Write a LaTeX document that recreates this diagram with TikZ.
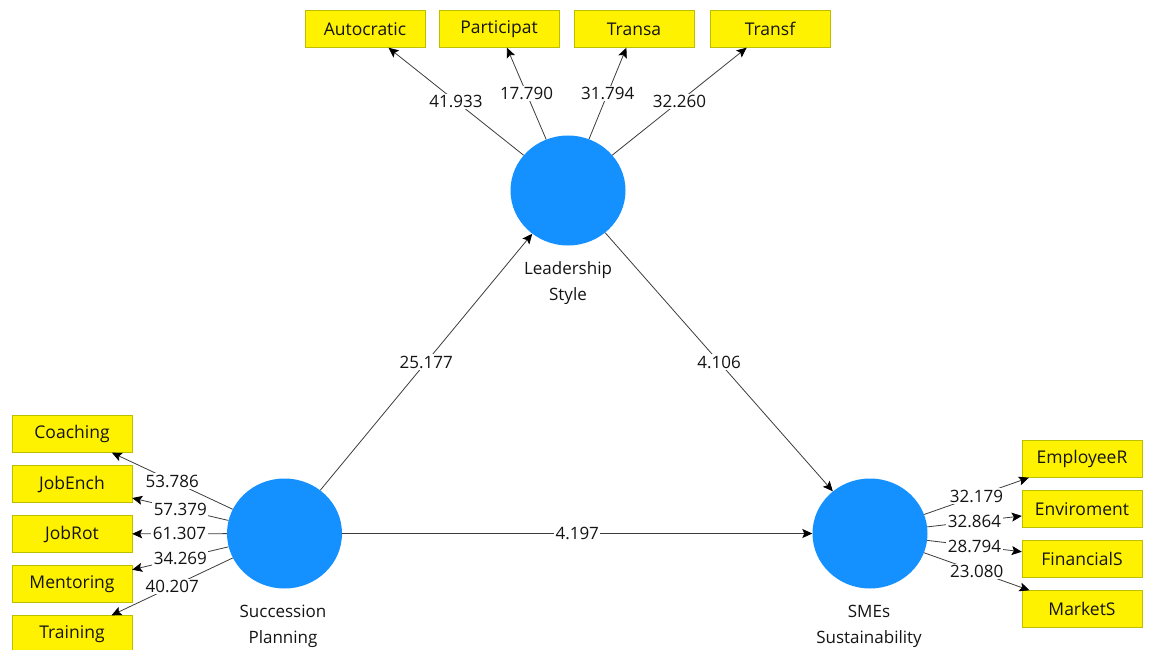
\documentclass[tikz,border=0pt]{standalone}
\usepackage{fontspec}
\setmainfont{Open Sans}
\usetikzlibrary{arrows.meta,shapes.geometric}
\definecolor{plsblue}{RGB}{20,144,255}
\definecolor{boxline}{RGB}{190,190,0}
\definecolor{linegray}{RGB}{60,60,60}
\definecolor{txtgray}{RGB}{20,20,20}
\tikzset{
  latent/.style={ellipse, fill=plsblue, minimum width=115pt, minimum height=110pt, inner sep=0pt},
  indic/.style={draw=boxline, fill=yellow, minimum width=120pt, minimum height=37pt, inner sep=0pt,
    text=txtgray, font=\fontsize{17.5}{20}\selectfont},
  coef/.style={fill=white, inner sep=1.5pt, text=txtgray, font=\fontsize{17}{20}\selectfont},
  lvname/.style={align=center, text=txtgray, font=\fontsize{17}{26}\selectfont},
  link/.style={draw=linegray, ->, line width=0.8pt}
}
\begin{document}
\begin{tikzpicture}[x=1pt, y=-1pt, >={Stealth[length=10pt,width=9pt,inset=2pt,color=black]}]
\useasboundingbox (0,0) rectangle (1151,650);

% latent variables
\node[latent] (ls)  at (568,190.5) {};
\node[latent] (sp)  at (284.5,533.5) {};
\node[latent] (sme) at (870,533.5) {};
\node[lvname] (lslab)  at (568,283) {Leadership\\Style};
\node[lvname] (splab)  at (283,626) {Succession\\Planning};
\node[lvname] (smelab) at (869,626) {SMEs\\Sustainability};

% indicators
\node[indic] (auto)   at (365,29)  {Autocratic};
\node[indic] (part)   at (499,29)  {Participat};
\node[indic] (transa) at (634,29)  {Transa};
\node[indic] (transf) at (770,29)  {Transf};

\node[indic] (coach)  at (72,434) {Coaching};
\node[indic] (jobenc) at (72,484) {JobEnch};
\node[indic] (jobrot) at (72,534) {JobRot};
\node[indic] (mentor) at (72,584) {Mentoring};
\node[indic] (train)  at (72,634) {Training};

\node[indic] (emplr)  at (1082,459) {EmployeeR};
\node[indic] (envir)  at (1082,509) {Enviroment};
\node[indic] (finan)  at (1082,559) {FinancialS};
\node[indic] (market) at (1082,609) {MarketS};

% outer loadings
\draw[link] (ls) -- node[coef] {41.933} (auto);
\draw[link] (ls) -- node[coef] {17.790} (part);
\draw[link] (ls) -- node[coef] {31.794} (transa);
\draw[link] (ls) -- node[coef] {32.260} (transf);

\draw[link] (sp) -- node[coef] {53.786} (coach);
\draw[link] (sp) -- node[coef] {57.379} (jobenc);
\draw[link] (sp) -- node[coef] {61.307} (jobrot);
\draw[link] (sp) -- node[coef] {34.269} (mentor);
\draw[link] (sp) -- node[coef] {40.207} (train);

\draw[link] (sme) -- node[coef] {32.179} (emplr);
\draw[link] (sme) -- node[coef] {32.864} (envir);
\draw[link] (sme) -- node[coef] {28.794} (finan);
\draw[link] (sme) -- node[coef] {23.080} (market);

% path coefficients
\draw[link] (sp) -- node[coef] {25.177} (ls);
\draw[link] (ls) -- node[coef] {4.106} (sme);
\draw[link] (sp) -- node[coef] {4.197} (sme);
\end{tikzpicture}
\end{document}
